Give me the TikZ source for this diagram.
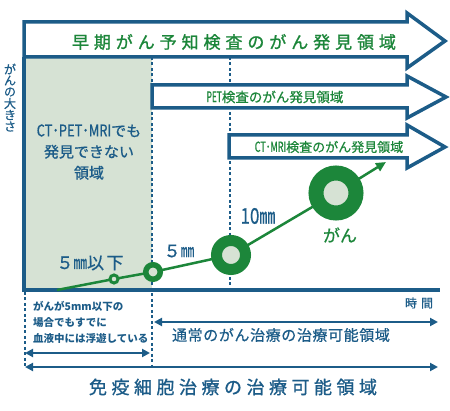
\documentclass[tikz,border=0pt]{standalone}
\usepackage{graphicx}
\usepackage{fontspec}
\setmainfont{Noto Sans CJK JP}
\usetikzlibrary{arrows.meta}
\definecolor{bl}{RGB}{28,92,136}
\definecolor{gr}{RGB}{28,134,58}
\definecolor{shd}{RGB}{214,226,212}
\newcommand\condlat[2]{\scalebox{#1}[1.08]{#2}}
\begin{document}
\begin{tikzpicture}[x=1pt,y=-1pt,
  frame/.style={draw=bl,line width=3.5pt,line join=miter,fill=white},
  dline/.style={draw=bl,line width=1.8pt,dash pattern=on 3pt off 2.5pt},
  dblarr/.style={draw=bl,line width=2pt,{Triangle[length=8pt,width=8pt]}-{Triangle[length=8pt,width=8pt]}},
  ring/.style={circle,draw=gr,fill=shd,inner sep=0pt,outer sep=0pt},
  fs/.style={font=\fontsize{#1}{#1}\selectfont\addfontfeature{FakeBold=0.6}},
  bltxt/.style={text=bl,inner sep=0pt},
  grtxt/.style={text=gr,inner sep=0pt}
]
\useasboundingbox[fill=white] (0,0) rectangle (450,411);
% shaded region
\fill[shd] (24,57) rectangle (152,290);
% dashed guides
\draw[dline] (152,57) -- (152,367);
\draw[dline] (230,57) -- (230,290);
\draw[dline] (25,292) -- (25,367);
% big arrow
\draw[frame] (24,22) -- (407,22) -- (407,13) -- (445,41) -- (407,68) -- (407,57) -- (24,57) -- cycle;
% PET arrow
\draw[frame] (152,85) -- (407,85) -- (407,76) -- (446,97) -- (407,118) -- (407,108) -- (152,108) -- cycle;
% CT MRI arrow
\draw[frame] (229,135) -- (407,135) -- (407,125) -- (445,147) -- (407,168) -- (407,158) -- (229,158) -- cycle;
% axes
\draw[bl,line width=4pt,line join=miter] (24,57) -- (24,290) -- (440,290);
% growth curve
\coordinate (s) at (57,290);
\coordinate (t) at (386,162);
\node[ring,line width=3pt,minimum size=8pt] (c1) at (114,279) {};
\node[ring,line width=5.5pt,minimum size=14.5pt] (c2) at (153,272) {};
\node[ring,line width=11pt,minimum size=29pt] (c3) at (231,255) {};
\node[ring,line width=15pt,minimum size=40pt] (c4) at (336,193) {};
\draw[gr,line width=2.5pt] (s) -- (c1) -- (c2) -- (c3) -- (c4);
\draw[gr,line width=2.5pt,-{Triangle[length=10pt,width=9pt]}] (c4) -- (t);
% double arrows
\draw[dblarr] (25,353) -- (150,353);
\draw[dblarr] (154,322) -- (438,322);
\draw[dblarr] (25,367) -- (438,367);
% texts
\node[grtxt,font=\fontsize{17}{17}\selectfont\addfontfeature{LetterSpace=29,FakeBold=1.2}] (title) at (234,42) {早期がん予知検査のがん発見領域};
\node[grtxt,fs=13.5] (pet) at (275,97) {\condlat{0.62}{PET}検査のがん発見領域};
\node[grtxt,fs=13] (ctmri) at (329,147) {\condlat{0.7}{CT･MRI}検査のがん発見領域};
\foreach \ch [count=\i] in {が,ん,の,大,き,さ}
  \node[bltxt,fs=12] (ylab\i) at (10,57.5+11.5*\i) {\ch};
\node[bltxt,align=center,font=\fontsize{15}{21}\selectfont\addfontfeature{FakeBold=0.8}] (cant) at (89,152) {\condlat{0.86}{CT･PET･MRI}でも\\発見できない\\領域};
\node[bltxt,font=\fontsize{17}{17}\selectfont\addfontfeature{LetterSpace=14,FakeBold=0.8}] (l5a) at (90,263) {５\condlat{0.8}{㎜}以下};
\node[bltxt,font=\fontsize{17}{17}\selectfont\addfontfeature{LetterSpace=10,FakeBold=0.8}] (l5b) at (179,251) {５\condlat{0.8}{㎜}};
\node[bltxt,fs=20] (l10) at (258,216) {\condlat{0.85}{10}\condlat{0.8}{㎜}};
\node[grtxt,fs=17] (gan) at (340,235) {がん};
\node[bltxt,fs=12] (time) at (419,303) {時\hspace{4pt}間};
\node[bltxt,align=left,anchor=west,font=\bfseries\fontsize{10.5}{16}\selectfont] (blood) at (33,322) {がんが5mm以下の\\場合でもすでに\\血液中には浮遊している};
\node[bltxt,font=\fontsize{15}{15}\selectfont\addfontfeature{LetterSpace=4,FakeBold=0.6}] (usual) at (281,335) {通常のがん治療の治療可能領域};
\node[bltxt,font=\fontsize{18}{18}\selectfont\addfontfeature{LetterSpace=25,FakeBold=1}] (immune) at (233,387) {免疫細胞治療の治療可能領域};
\end{tikzpicture}
\end{document}
